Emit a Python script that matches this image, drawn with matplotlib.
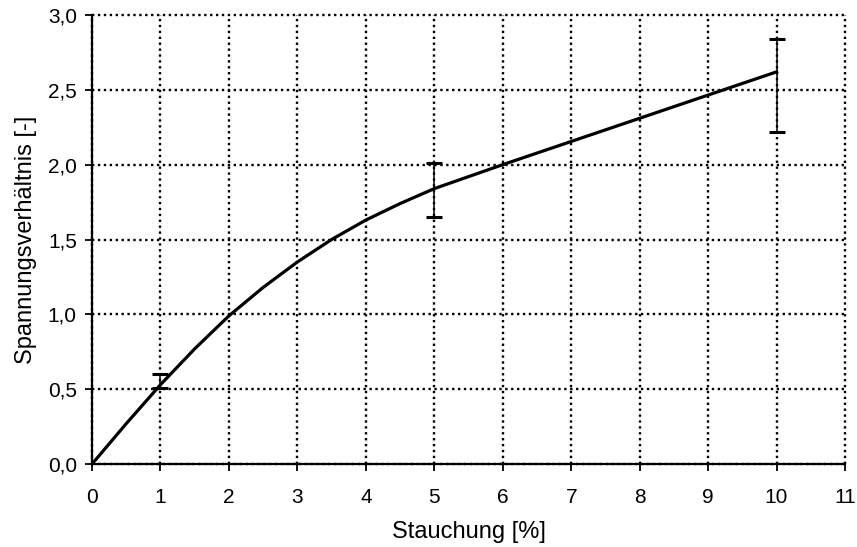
import numpy as np
import matplotlib.pyplot as plt
from matplotlib.ticker import FuncFormatter

plt.rcParams['font.family'] = ['Liberation Sans', 'DejaVu Sans']

stauchung = [0, 0.5, 1, 1.5, 2, 2.5, 3, 3.5, 4, 4.5, 5, 6, 7, 8, 9, 10]
verhaeltnis = [0, 0.27, 0.53, 0.77, 0.99, 1.18, 1.35, 1.50, 1.63, 1.74, 1.84,
               2.0, 2.155, 2.31, 2.465, 2.62]

err_x = [1, 5, 10]
err_mid = [0.53, 1.84, 2.62]
err_top = [0.60, 2.01, 2.84]
err_bot = [0.51, 1.65, 2.22]

fig = plt.figure(figsize=(8.57, 5.47), dpi=100)
ax = fig.add_axes([0.1074, 0.1517, 0.8786, 0.8209])

ax.grid(True, color='black', linestyle=(0, (1, 1.5)), linewidth=1.7)
ax.set_axisbelow(True)

ax.plot(stauchung, verhaeltnis, color='black', linewidth=2.3, zorder=3)

mid = np.array(err_mid)
yerr = [mid - np.array(err_bot), np.array(err_top) - mid]
ax.errorbar(err_x, err_mid, yerr=yerr, fmt='none', ecolor='black',
            elinewidth=1.1, capsize=5.5, capthick=2.2, zorder=4)

ax.set_xlim(0, 11)
ax.set_ylim(0, 3.0)
ax.set_xticks(np.arange(0, 12, 1))
ax.set_yticks(np.arange(0, 3.01, 0.5))
ax.yaxis.set_major_formatter(FuncFormatter(lambda v, p: f"{v:.1f}".replace('.', ',')))

for s in ['top', 'right']:
    ax.spines[s].set_visible(False)
for s in ['left', 'bottom']:
    ax.spines[s].set_linewidth(1.6)

ax.tick_params(direction='out', length=5, width=1.3, labelsize=15, colors='black')
ax.tick_params(axis='x', pad=12)
ax.tick_params(axis='y', pad=6)
for line in ax.get_xgridlines() + ax.get_ygridlines():
    line.set_clip_on(False)

ax.set_xlabel('Stauchung [%]', fontsize=17, labelpad=10)
ax.set_ylabel('Spannungsverhältnis [-]', fontsize=17, labelpad=8)

fig.savefig('out.png', dpi=100)
